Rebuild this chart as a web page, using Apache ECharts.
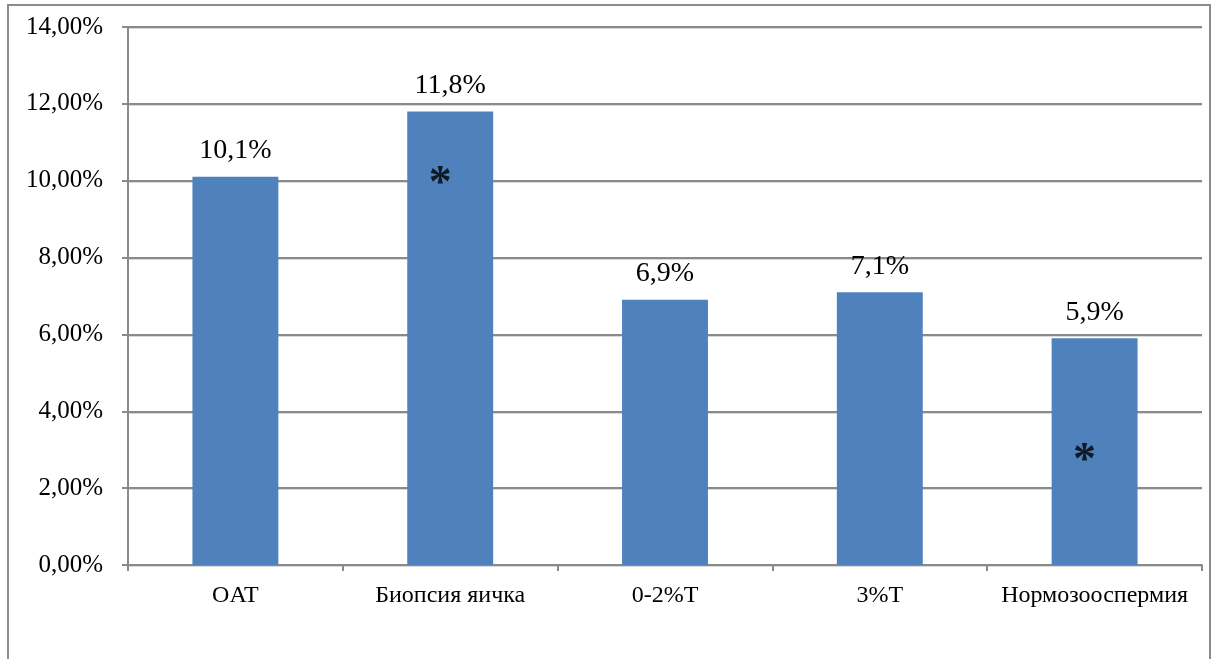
<!DOCTYPE html>
<html>
<head>
<meta charset="utf-8">
<script src="https://cdn.jsdelivr.net/npm/echarts@6/dist/echarts.min.js"></script>
<style>
  html, body { margin: 0; padding: 0; background: #fff; }
  #chart { width: 1211px; height: 659px; }
</style>
</head>
<body>
<div id="chart"></div>
<script>
// Categories and values (percent)
const categories = ['OAT', 'Биопсия яичка', '0-2%T', '3%T', 'Нормозооспермия'];
const values = [10.1, 11.8, 6.9, 7.1, 5.9];
// Significance markers: category and vertical position (percent) of the asterisk
const markerCategories = ['Биопсия яичка', 'Нормозооспермия'];
const markerLevels = [10.2, 3.0];

const serif = '"Liberation Serif", "Times New Roman", serif';
const gridColor = '#8a8a8a';

const fmtAxis = v => v.toFixed(2).replace('.', ',') + '%';
const fmtValue = v => v.toFixed(1).replace('.', ',') + '%';

const chart = echarts.init(document.getElementById('chart'));
chart.setOption({
  animation: false,
  backgroundColor: '#fff',
  graphic: [{
    type: 'rect',
    shape: { x: 8, y: 5, width: 1202, height: 700 },
    style: { fill: 'none', stroke: '#8c8c8c', lineWidth: 2 },
    silent: true
  }],
  grid: { left: 128, right: 9, top: 27, bottom: 94 },
  xAxis: {
    type: 'category',
    data: categories,
    axisLine: { lineStyle: { color: gridColor, width: 2 } },
    axisTick: { show: true, length: 6, lineStyle: { color: gridColor, width: 2 } },
    axisLabel: { color: '#000', fontFamily: serif, fontSize: 24, margin: 19, interval: 0 }
  },
  yAxis: {
    type: 'value',
    min: 0, max: 14, interval: 2,
    axisLine: { show: true, lineStyle: { color: gridColor, width: 2 } },
    axisTick: { show: true, length: 6, lineStyle: { color: gridColor, width: 2 } },
    axisLabel: { color: '#000', fontFamily: serif, fontSize: 25, margin: 25, formatter: fmtAxis },
    splitLine: { lineStyle: { color: gridColor, width: 2, shadowColor: 'rgba(0,0,0,0.15)', shadowOffsetY: 1 } }
  },
  series: [{
    type: 'bar',
    data: values,
    barWidth: '40%',
    itemStyle: { color: '#4F81BD' },
    label: {
      show: true, position: 'top', distance: 12,
      color: '#000', fontFamily: serif, fontSize: 28,
      formatter: p => fmtValue(p.value)
    }
  }, {
    type: 'scatter',
    data: markerCategories.map((c, i) => [c, markerLevels[i]]),
    symbolSize: 0,
    label: {
      show: true, position: 'inside',
      formatter: '*', color: '#000', fontFamily: serif,
      fontWeight: 'bold', fontSize: 46, offset: [-10, 12]
    },
    z: 5
  }]
});
</script>
</body>
</html>
